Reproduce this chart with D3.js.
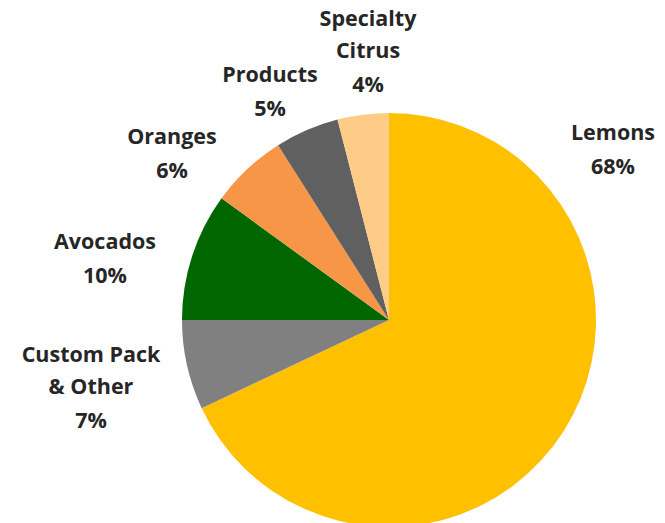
<!DOCTYPE html>
<html><head><meta charset="utf-8">
<script src="https://cdn.jsdelivr.net/npm/d3@7"></script>
<style>body{margin:0;background:#fff}svg{display:block}</style>
</head><body>
<svg id="c" width="665" height="523"></svg>
<script>
const categories = ["Lemons", "Custom Pack & Other", "Avocados", "Oranges", "Products", "Specialty Citrus"];
const values = [68, 7, 10, 6, 5, 4];
const labelLines = [["Lemons"], ["Custom Pack", "& Other"], ["Avocados"], ["Oranges"], ["Products"], ["Specialty", "Citrus"]];
const colors = ["#FFC000", "#808080", "#006600", "#F79646", "#606060", "#FFCC88"];
// label anchor (center x, first line center y)
const labelAnchors = [[613, 132], [91, 354], [105, 241], [172, 136], [270, 74], [368, 18]];

const svg = d3.select("#c");
const cx = 389, cy = 320, R = 207;
const pie = d3.pie().sort(null).value(d => d)(values);
const arc = d3.arc().innerRadius(0).outerRadius(R);
const g = svg.append("g").attr("transform", `translate(${cx},${cy})`);
g.selectAll("path").data(pie).join("path")
  .attr("d", arc).attr("fill", (d, i) => colors[i]);

const lh = 32;
const lab = svg.append("g").attr("font-family", "'Open Sans', sans-serif")
  .attr("font-weight", "bold").attr("font-size", 21.5).attr("fill", "#262626")
  .attr("text-anchor", "middle");
categories.forEach((c, i) => {
  const [x, y] = labelAnchors[i];
  const lines = labelLines[i].concat([d3.format(".0f")(values[i]) + "%"]);
  lines.forEach((t, j) => {
    const extra = j === lines.length - 1 ? 2 : 0;
    lab.append("text").attr("x", x).attr("y", y + j * lh + extra).attr("dy", "0.35em").text(t);
  });
});
</script>
</body></html>
